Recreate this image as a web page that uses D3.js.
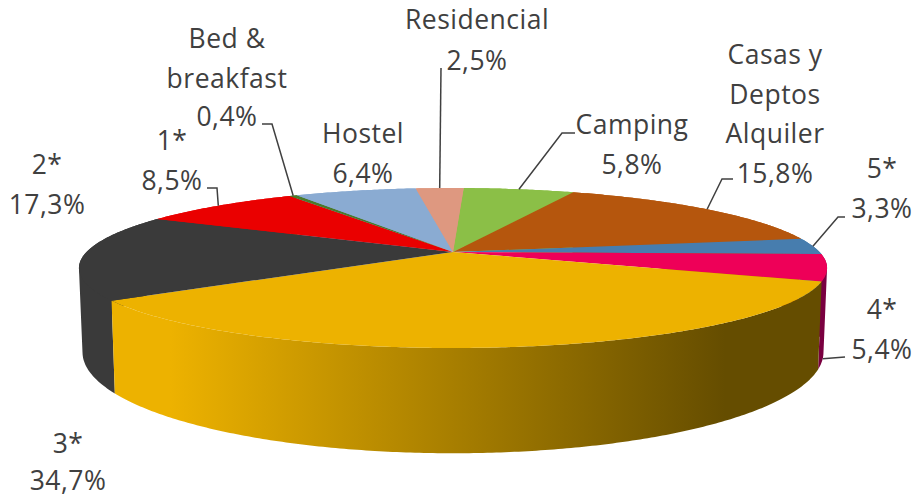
<!DOCTYPE html>
<html>
<head>
<meta charset="utf-8">
<script src="https://cdn.jsdelivr.net/npm/d3@7"></script>
<style>
    html, body { margin: 0; padding: 0; background: #fff; }
    svg { display: block; }
</style>
</head>
<body>
<svg class="pie3d"></svg>
<script>
// chart values, clockwise starting from the top of the pie
const categories = ["Camping", "Casas y Deptos Alquiler", "5*", "4*", "3*", "2*", "1*", "Bed & breakfast", "Hostel", "Residencial"];
const shares = [5.8, 15.8, 3.3, 5.4, 34.7, 17.3, 8.5, 0.4, 6.4, 2.5];
const shareLabels = ["5,8%", "15,8%", "3,3%", "5,4%", "34,7%", "17,3%", "8,5%", "0,4%", "6,4%", "2,5%"];

const topColors = ["#8bbf47", "#b5560d", "#477dae", "#ee0058", "#edb200", "#3a3a3a", "#ea0000", "#4a7a2a", "#8aabd2", "#de9880"];
const wallColors = ["#8bbf47", "#b5560d", "#477dae", "#7a0040", "url(#wallGold)", "#3a3a3a", "#ea0000", "#4a7a2a", "#8aabd2", "#de9880"];

// label lines are written by hand, one entry for each category
const labelLayout = [
    {x: 632, lines: ["Camping"], ys: [134, 174], elbow: [[575, 133], [562, 133]]},
    {x: 775, lines: ["Casas y", "Deptos", "Alquiler"], ys: [64, 104, 143, 183], elbow: [[733, 179], [722, 179]]},
    {x: 882, lines: ["5*"], ys: [178, 218], elbow: [[845, 217], [838, 217]]},
    {x: 882, lines: ["4*"], ys: [319, 359], elbow: [[845, 357]], onWall: 0.7},
    {x: 68, lines: ["3*"], ys: [453, 490]},
    {x: 47, lines: ["2*"], ys: [174, 214]},
    {x: 172, lines: ["1*"], ys: [150, 190], elbow: [[207, 188], [217, 188]]},
    {x: 227, lines: ["Bed &", "breakfast"], ys: [48, 88, 126], elbow: [[262, 124], [272, 124]]},
    {x: 363, lines: ["Hostel"], ys: [143, 183]},
    {x: 477, lines: ["Residencial"], ys: [29, 70], elbow: [[441, 68]]}
];

const width = 919, height = 497;
const startDeg = 2;
const centerX = 453;
const topDisc = {radius: 366.5, apexY: 252, spreadY: 76.8, tilt: 0.2};
const baseDisc = {radius: 363, apexY: 332, spreadY: 97, tilt: 0.2};

// perspective projection of a point on the rim, angle runs clockwise from the top
function project(disc, angle) {
    const u = Math.sin(angle), v = -Math.cos(angle);
    const d = 1 - disc.tilt * v;
    return [centerX + disc.radius * u / d, disc.apexY + disc.spreadY * v / d];
}

function sampleAngles(a0, a1) {
    const steps = Math.max(2, Math.ceil((a1 - a0) / 0.01));
    return d3.range(steps + 1).map(i => a0 + (a1 - a0) * i / steps);
}

function drawPie() {
    const svg = d3.select(".pie3d").attr("width", width).attr("height", height);

    const grad = svg.append("defs").append("linearGradient")
        .attr("id", "wallGold")
        .attr("gradientUnits", "userSpaceOnUse")
        .attr("x1", 170).attr("x2", 725).attr("y1", 0).attr("y2", 0);
    grad.append("stop").attr("offset", 0).attr("stop-color", "#edb200");
    grad.append("stop").attr("offset", 1).attr("stop-color", "#654d00");

    const pie = d3.pie().sort(null)
        .startAngle(startDeg * Math.PI / 180)
        .endAngle(startDeg * Math.PI / 180 + 2 * Math.PI);
    const arcs = pie(shares);
    const mid = d => (d.startAngle + d.endAngle) / 2;
    const line = d3.line();

    // side walls, far ones first. Every wall is a set of small quads so that the
    // silhouette stays filled where the two rims cross over
    const walls = arcs.slice().sort((a, b) => Math.cos(mid(b)) - Math.cos(mid(a)));
    svg.append("g").selectAll("path")
        .data(walls)
        .join("path")
        .attr("fill", d => wallColors[d.index])
        .attr("d", d => {
            const angles = sampleAngles(d.startAngle, d.endAngle);
            let path = "";
            for (let i = 0; i < angles.length - 1; i++) {
                const quad = [project(topDisc, angles[i]), project(topDisc, angles[i + 1]),
                              project(baseDisc, angles[i + 1]), project(baseDisc, angles[i])];
                if (d3.polygonArea(quad) < 0) quad.reverse();
                path += line(quad) + "Z";
            }
            return path;
        });

    // top surface
    svg.append("g").selectAll("path")
        .data(arcs)
        .join("path")
        .attr("fill", d => topColors[d.index])
        .attr("d", d => line([[centerX, topDisc.apexY]].concat(
            sampleAngles(d.startAngle, d.endAngle).map(a => project(topDisc, a)))) + "Z");

    // leader lines
    const leaders = arcs.filter(d => labelLayout[d.index].elbow);
    svg.append("g").selectAll("path")
        .data(leaders)
        .join("path")
        .attr("fill", "none")
        .attr("stroke", "#404040")
        .attr("stroke-width", 1.5)
        .attr("d", d => {
            const layout = labelLayout[d.index];
            const end = layout.onWall
                ? project(baseDisc, d.startAngle + (d.endAngle - d.startAngle) * layout.onWall)
                : project(topDisc, mid(d));
            return line(layout.elbow.concat([end]));
        });

    // labels: the name lines, then the share as the last line
    const labels = svg.append("g")
        .attr("text-anchor", "middle")
        .style("font-family", "'Open Sans'")
        .style("font-size", "26.5px")
        .style("letter-spacing", "0.5px")
        .attr("fill", "#404040");
    labelLayout.forEach((layout, i) => {
        layout.lines.concat([shareLabels[i]]).forEach((text, j) => {
            labels.append("text").attr("x", layout.x).attr("y", layout.ys[j]).text(text);
        });
    });
}

document.addEventListener('DOMContentLoaded', function(){
    drawPie();
})
</script>
</body>
</html>
